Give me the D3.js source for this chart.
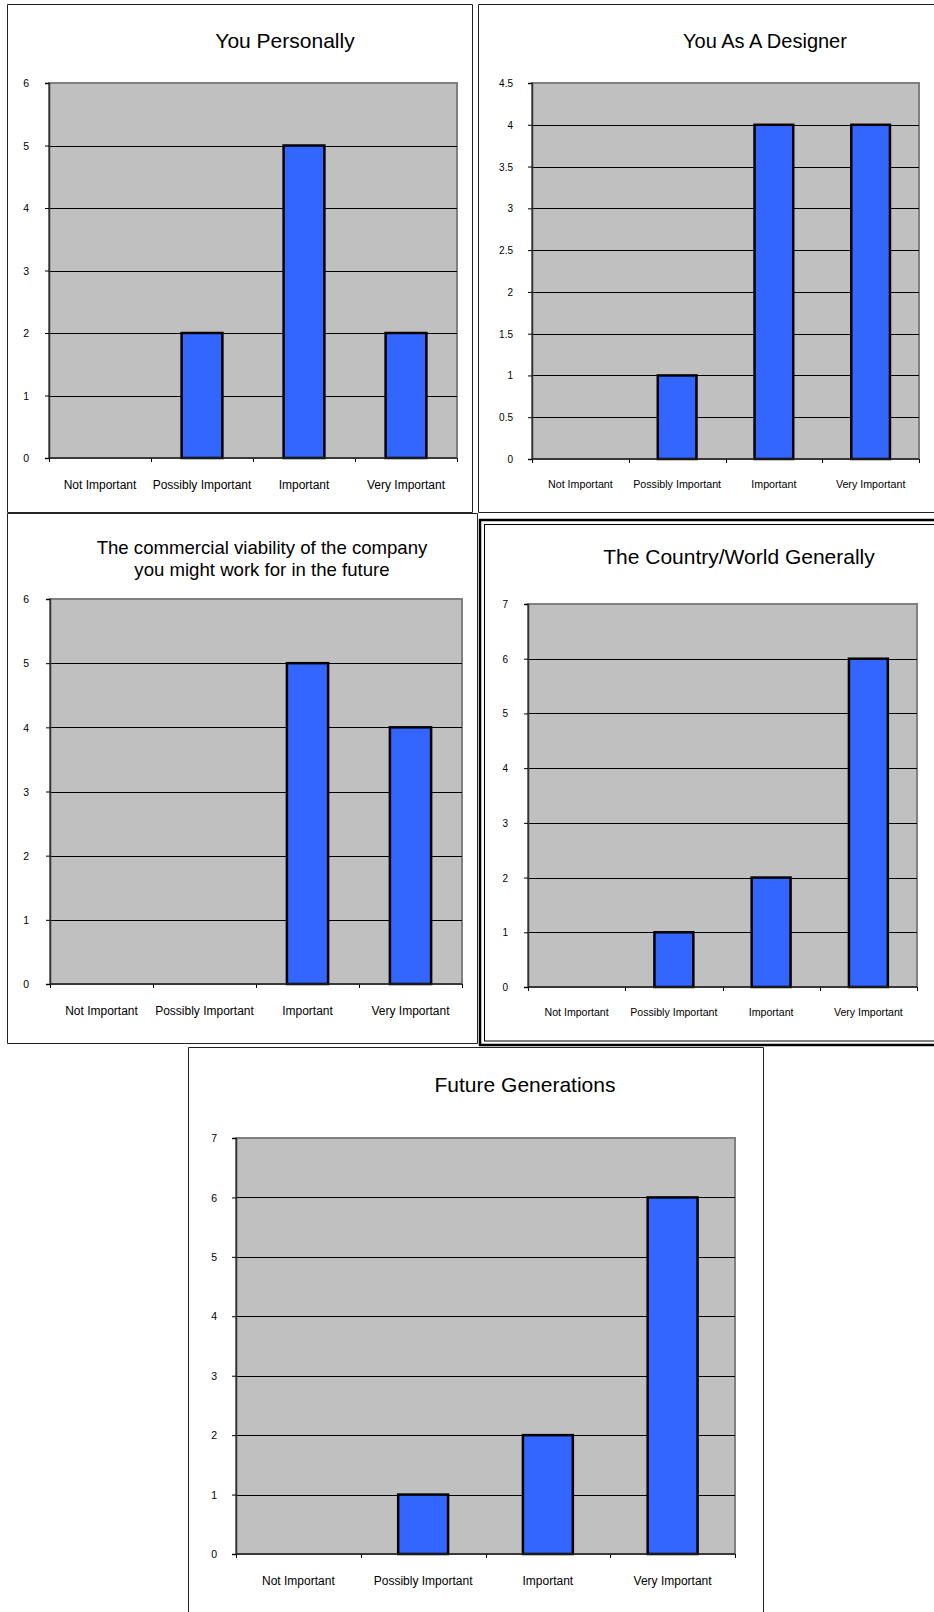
<!DOCTYPE html>
<html>
<head>
<meta charset="utf-8">
<script src="https://cdn.jsdelivr.net/npm/d3@7"></script>
<style>
  html, body { margin: 0; padding: 0; background: #fff; }
  svg { display: block; }
  text { font-family: "Liberation Sans", Arial, sans-serif; fill: #000; }
</style>
</head>
<body>
<svg id="chart" width="934" height="1612"></svg>
<script>
// ---- data ----
const categories = ["Not Important", "Possibly Important", "Important", "Very Important"];
const youPersonally = [0, 2, 5, 2];
const youAsDesigner = [0, 1, 4, 4];
const commercialViability = [0, 0, 5, 4];
const countryWorld = [0, 1, 2, 6];
const futureGenerations = [0, 1, 2, 6];
const chartTitles = [
  ["You Personally"],
  ["You As A Designer"],
  ["The commercial viability of the company", "you might work for in the future"],
  ["The Country/World Generally"],
  ["Future Generations"]
];
const yMaxes = [6, 4.5, 6, 7, 7];
const yTickSteps = [1, 0.5, 1, 1, 1];
const seriesList = [youPersonally, youAsDesigner, commercialViability, countryWorld, futureGenerations];

// ---- layout (positions/styles only) ----
const layout = [
  { border: {x1: 7, y1: 4, x2: 472, y2: 512, sides: "tlrb"}, plot: {l: 49, t: 83, r: 457, b: 458},
    title: {x: 285, y: 41, size: 21, lh: 22}, xLab: {y: 485, size: 12}, yLab: {x: 29, size: 10.5} },
  { border: {x1: 478, y1: 4, x2: 960, y2: 512, sides: "tlb"}, plot: {l: 532, t: 83, r: 919, b: 459},
    title: {x: 765, y: 41, size: 20, lh: 22}, xLab: {y: 484, size: 10.7}, yLab: {x: 513, size: 10} },
  { border: {x1: 7, y1: 513, x2: 477, y2: 1043, sides: "tlrb"}, plot: {l: 50, t: 599, r: 462, b: 984},
    title: {x: 262, y: 547, size: 18.6, lh: 22}, xLab: {y: 1011, size: 12}, yLab: {x: 29, size: 10.5} },
  { border: {x1: 480, y1: 520, x2: 960, y2: 1045, sides: "double"}, plot: {l: 528, t: 604, r: 917, b: 987},
    title: {x: 739, y: 557, size: 21, lh: 22}, xLab: {y: 1012, size: 10.6}, yLab: {x: 508, size: 10} },
  { border: {x1: 188, y1: 1047, x2: 763, y2: 1640, sides: "tlr"}, plot: {l: 236, t: 1138, r: 735, b: 1554},
    title: {x: 525, y: 1085, size: 21, lh: 22}, xLab: {y: 1581, size: 12}, yLab: {x: 217, size: 10.5} }
];

const svg = d3.select("#chart");
const crisp = v => Math.round(v) + 0.5;

function drawBorder(g, b) {
  if (b.sides === "double") {
    g.append("rect").attr("x", b.x1).attr("y", b.y1).attr("width", b.x2 - b.x1).attr("height", b.y2 - b.y1)
      .attr("fill", "none").attr("stroke", "#000").attr("stroke-width", 2.5);
    g.append("rect").attr("x", b.x1 + 4.5).attr("y", b.y1 + 4.5).attr("width", b.x2 - b.x1 - 9).attr("height", b.y2 - b.y1 - 8.5)
      .attr("fill", "none").attr("stroke", "#000").attr("stroke-width", 1);
    return;
  }
  const segs = [];
  if (b.sides.includes("t")) segs.push([b.x1, b.y1, b.x2, b.y1]);
  if (b.sides.includes("b")) segs.push([b.x1, b.y2, b.x2, b.y2]);
  if (b.sides.includes("l")) segs.push([b.x1, b.y1, b.x1, b.y2]);
  if (b.sides.includes("r")) segs.push([b.x2, b.y1, b.x2, b.y2]);
  g.selectAll("line.border").data(segs).join("line").attr("class", "border")
    .attr("x1", d => crisp(d[0])).attr("y1", d => crisp(d[1]))
    .attr("x2", d => crisp(d[2])).attr("y2", d => crisp(d[3]))
    .attr("stroke", "#222").attr("stroke-width", 1);
}

seriesList.forEach((values, i) => {
  const L = layout[i];
  const g = svg.append("g");
  drawBorder(g, L.border);

  const data = categories.map((c, k) => ({ cat: c, value: values[k] }));
  const p = L.plot;

  const y = d3.scaleLinear().domain([0, yMaxes[i]]).range([p.b, p.t]);
  const xBand = d3.scaleBand().domain(categories).range([p.l, p.r]).paddingInner(0.6).paddingOuter(0.3);
  const xSlot = d3.scaleBand().domain(categories).range([p.l, p.r]).padding(0);

  const ticks = d3.range(0, yMaxes[i] + 1e-9, yTickSteps[i]);

  // plot background
  g.append("rect").attr("x", p.l).attr("y", p.t).attr("width", p.r - p.l).attr("height", p.b - p.t)
    .attr("fill", "#c0c0c0").attr("stroke", "#808080").attr("stroke-width", 2);

  // gridlines
  g.selectAll("line.grid").data(ticks.filter(t => t > 0 && t < yMaxes[i] - 1e-9)).join("line")
    .attr("class", "grid")
    .attr("x1", p.l).attr("x2", p.r)
    .attr("y1", d => crisp(y(d))).attr("y2", d => crisp(y(d)))
    .attr("stroke", "#000").attr("stroke-width", 1);

  // y axis
  const yAxis = d3.axisLeft(y).tickValues(ticks).tickSize(4).tickPadding(0)
    .tickFormat(d3.format("~g"));
  const yg = g.append("g").attr("transform", `translate(${p.l},0)`).call(yAxis);
  yg.select(".domain").attr("stroke", "#333").attr("stroke-width", 1.5);
  yg.selectAll(".tick line").attr("stroke", "#000");
  yg.selectAll(".tick text")
    .attr("x", L.yLab.x - p.l).attr("dy", "0.35em")
    .attr("text-anchor", "end")
    .style("font-family", '"Liberation Sans", Arial, sans-serif')
    .style("font-size", L.yLab.size + "px").attr("fill", "#000");

  // x axis (ticks at category boundaries)
  const bounds = categories.map(c => xSlot(c)).concat([p.r]);
  g.selectAll("line.xtick").data(bounds).join("line").attr("class", "xtick")
    .attr("x1", d => crisp(d)).attr("x2", d => crisp(d))
    .attr("y1", p.b).attr("y2", p.b + 4)
    .attr("stroke", "#000").attr("stroke-width", 1);

  // bars
  g.selectAll("rect.bar").data(data.filter(d => d.value > 0)).join("rect").attr("class", "bar")
    .attr("x", d => xBand(d.cat))
    .attr("width", xBand.bandwidth())
    .attr("y", d => y(d.value))
    .attr("height", d => y(0) - y(d.value))
    .attr("fill", "#3366ff").attr("stroke", "#000").attr("stroke-width", 2.5);

  // bottom axis line
  g.append("line").attr("x1", p.l).attr("x2", p.r).attr("y1", p.b).attr("y2", p.b)
    .attr("stroke", "#222").attr("stroke-width", 1.5);

  // x labels
  g.selectAll("text.xl").data(categories).join("text").attr("class", "xl")
    .attr("x", d => xSlot(d) + xSlot.bandwidth() / 2)
    .attr("y", L.xLab.y).attr("dy", "0.35em")
    .attr("text-anchor", "middle")
    .style("font-size", L.xLab.size + "px")
    .text(d => d);

  // title
  const lines = chartTitles[i];
  g.selectAll("text.title").data(lines).join("text").attr("class", "title")
    .attr("x", L.title.x)
    .attr("y", (d, k) => L.title.y + k * L.title.lh)
    .attr("dy", "0.35em")
    .attr("text-anchor", "middle")
    .style("font-size", L.title.size + "px")
    .text(d => d);
});
</script>
</body>
</html>
